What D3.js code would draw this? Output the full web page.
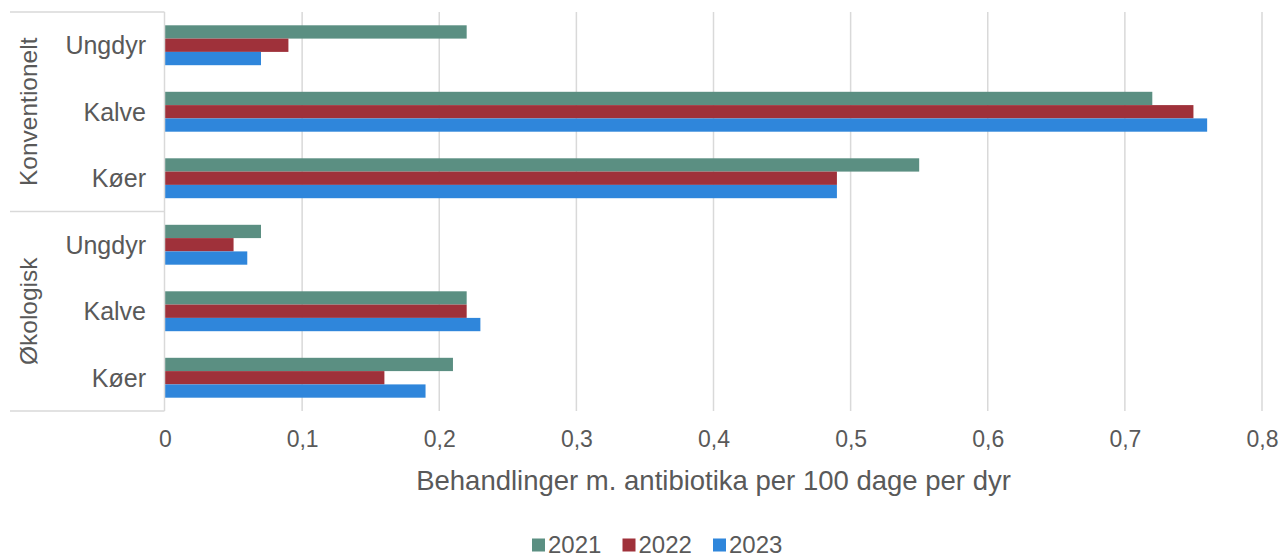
<!DOCTYPE html>
<html>
<head>
<meta charset="utf-8">
<script src="https://cdn.jsdelivr.net/npm/d3@7"></script>
<style>
  html, body { margin: 0; padding: 0; background: #fff; }
  svg { display: block; font-family: "Liberation Sans", Arial, sans-serif; }
</style>
</head>
<body>
<svg id="chart" width="1281" height="560"></svg>
<script>
// Antibiotic treatments per 100 days per animal, by production type and age group
const groups = ["Konventionelt", "Økologisk"];
const categories = ["Ungdyr", "Kalve", "Køer"];
const years = ["2021", "2022", "2023"];
const colors = ["#5b8f82", "#9f313a", "#2f86db"];

const konventionelt = {
  "2021": [0.22, 0.72, 0.55],
  "2022": [0.09, 0.75, 0.49],
  "2023": [0.07, 0.76, 0.49]
};
const oekologisk = {
  "2021": [0.07, 0.22, 0.21],
  "2022": [0.05, 0.22, 0.16],
  "2023": [0.06, 0.23, 0.19]
};
const xTicks = [0, 0.1, 0.2, 0.3, 0.4, 0.5, 0.6, 0.7, 0.8];
const xTitle = "Behandlinger m. antibiotika per 100 dage per dyr";

const groupData = [konventionelt, oekologisk];
const rows = [];
groups.forEach((g, gi) => {
  categories.forEach((c, ci) => {
    rows.push({
      key: g + "|" + c,
      group: g,
      category: c,
      values: years.map(y => ({ year: y, value: groupData[gi][y][ci] }))
    });
  });
});

const svg = d3.select("#chart");
const plotLeft = 165, plotRight = 1262, plotTop = 12, plotBottom = 411;
const frameLeft = 10;

const x = d3.scaleLinear().domain([0, 0.8]).range([plotLeft, plotRight]);
const y = d3.scaleBand()
  .domain(rows.map(r => r.key))
  .range([plotTop, plotBottom])
  .paddingInner(0.4)
  .paddingOuter(0.2);
const yInner = d3.scaleBand().domain(years).range([0, y.bandwidth()]);
const color = d3.scaleOrdinal().domain(years).range(colors);

const textColor = "#595959";
const gridColor = "#d9d9d9";

// vertical gridlines
svg.append("g")
  .selectAll("line")
  .data(xTicks.slice(1))
  .join("line")
  .attr("x1", d => x(d)).attr("x2", d => x(d))
  .attr("y1", plotTop).attr("y2", plotBottom)
  .attr("stroke", gridColor)
  .attr("stroke-width", 1.5);

// bars
const rowG = svg.append("g")
  .selectAll("g")
  .data(rows)
  .join("g")
  .attr("transform", d => `translate(0,${y(d.key)})`);

rowG.selectAll("rect")
  .data(d => d.values)
  .join("rect")
  .attr("x", x(0))
  .attr("y", d => yInner(d.year))
  .attr("width", d => x(d.value) - x(0))
  .attr("height", yInner.bandwidth())
  .attr("fill", d => color(d.year));

// category axis line and group frame
const frame = svg.append("g").attr("stroke", gridColor).attr("stroke-width", 1.5).attr("fill", "none");
frame.append("line").attr("x1", plotLeft - 0.5).attr("x2", plotLeft - 0.5).attr("y1", plotTop).attr("y2", plotBottom);
const groupEdges = [plotTop, (plotTop + plotBottom) / 2, plotBottom];
frame.selectAll("line.edge")
  .data(groupEdges)
  .join("line")
  .attr("class", "edge")
  .attr("x1", frameLeft).attr("x2", plotLeft - 0.5)
  .attr("y1", d => d).attr("y2", d => d);

// category labels
svg.append("g")
  .selectAll("text")
  .data(rows)
  .join("text")
  .attr("x", 146)
  .attr("y", d => y(d.key) + y.bandwidth() / 2)
  .attr("dy", "0.35em")
  .attr("text-anchor", "end")
  .attr("font-size", 25)
  .attr("fill", textColor)
  .text(d => d.category);

// rotated group labels
svg.append("g")
  .selectAll("text")
  .data(groups)
  .join("text")
  .attr("transform", (d, i) => {
    const cy = (groupEdges[i] + groupEdges[i + 1]) / 2;
    return `translate(28,${cy}) rotate(-90)`;
  })
  .attr("dy", "0.35em")
  .attr("text-anchor", "middle")
  .attr("font-size", 24.5)
  .attr("fill", textColor)
  .text(d => d);

// value axis
const fmt = d => d === 0 ? "0" : String(d).replace(".", ",");
const xAxis = svg.append("g")
  .attr("transform", `translate(0,${plotBottom})`)
  .call(d3.axisBottom(x).tickValues(xTicks).tickFormat(fmt).tickSize(0).tickPadding(20));
xAxis.select(".domain").remove();
xAxis.selectAll("text")
  .attr("font-size", 23)
  .attr("font-family", "'Liberation Sans', Arial, sans-serif")
  .attr("fill", textColor);

// axis title
svg.append("text")
  .attr("x", (plotLeft + plotRight) / 2)
  .attr("y", 490)
  .attr("text-anchor", "middle")
  .attr("font-size", 27.5)
  .attr("fill", textColor)
  .text(xTitle);

// legend
const legendItems = years.map((yr, i) => ({ year: yr, color: colors[i] }));
const legend = svg.append("g").attr("transform", "translate(0,545)");
const itemWidth = 90.5;
const legendStart = 532;
const li = legend.selectAll("g")
  .data(legendItems)
  .join("g")
  .attr("transform", (d, i) => `translate(${legendStart + i * itemWidth},0)`);
li.append("rect")
  .attr("x", 0).attr("y", -6.5)
  .attr("width", 13).attr("height", 13)
  .attr("fill", d => d.color);
li.append("text")
  .attr("x", 16)
  .attr("y", 0)
  .attr("dy", "0.35em")
  .attr("font-size", 24)
  .attr("fill", textColor)
  .text(d => d.year);
</script>
</body>
</html>
